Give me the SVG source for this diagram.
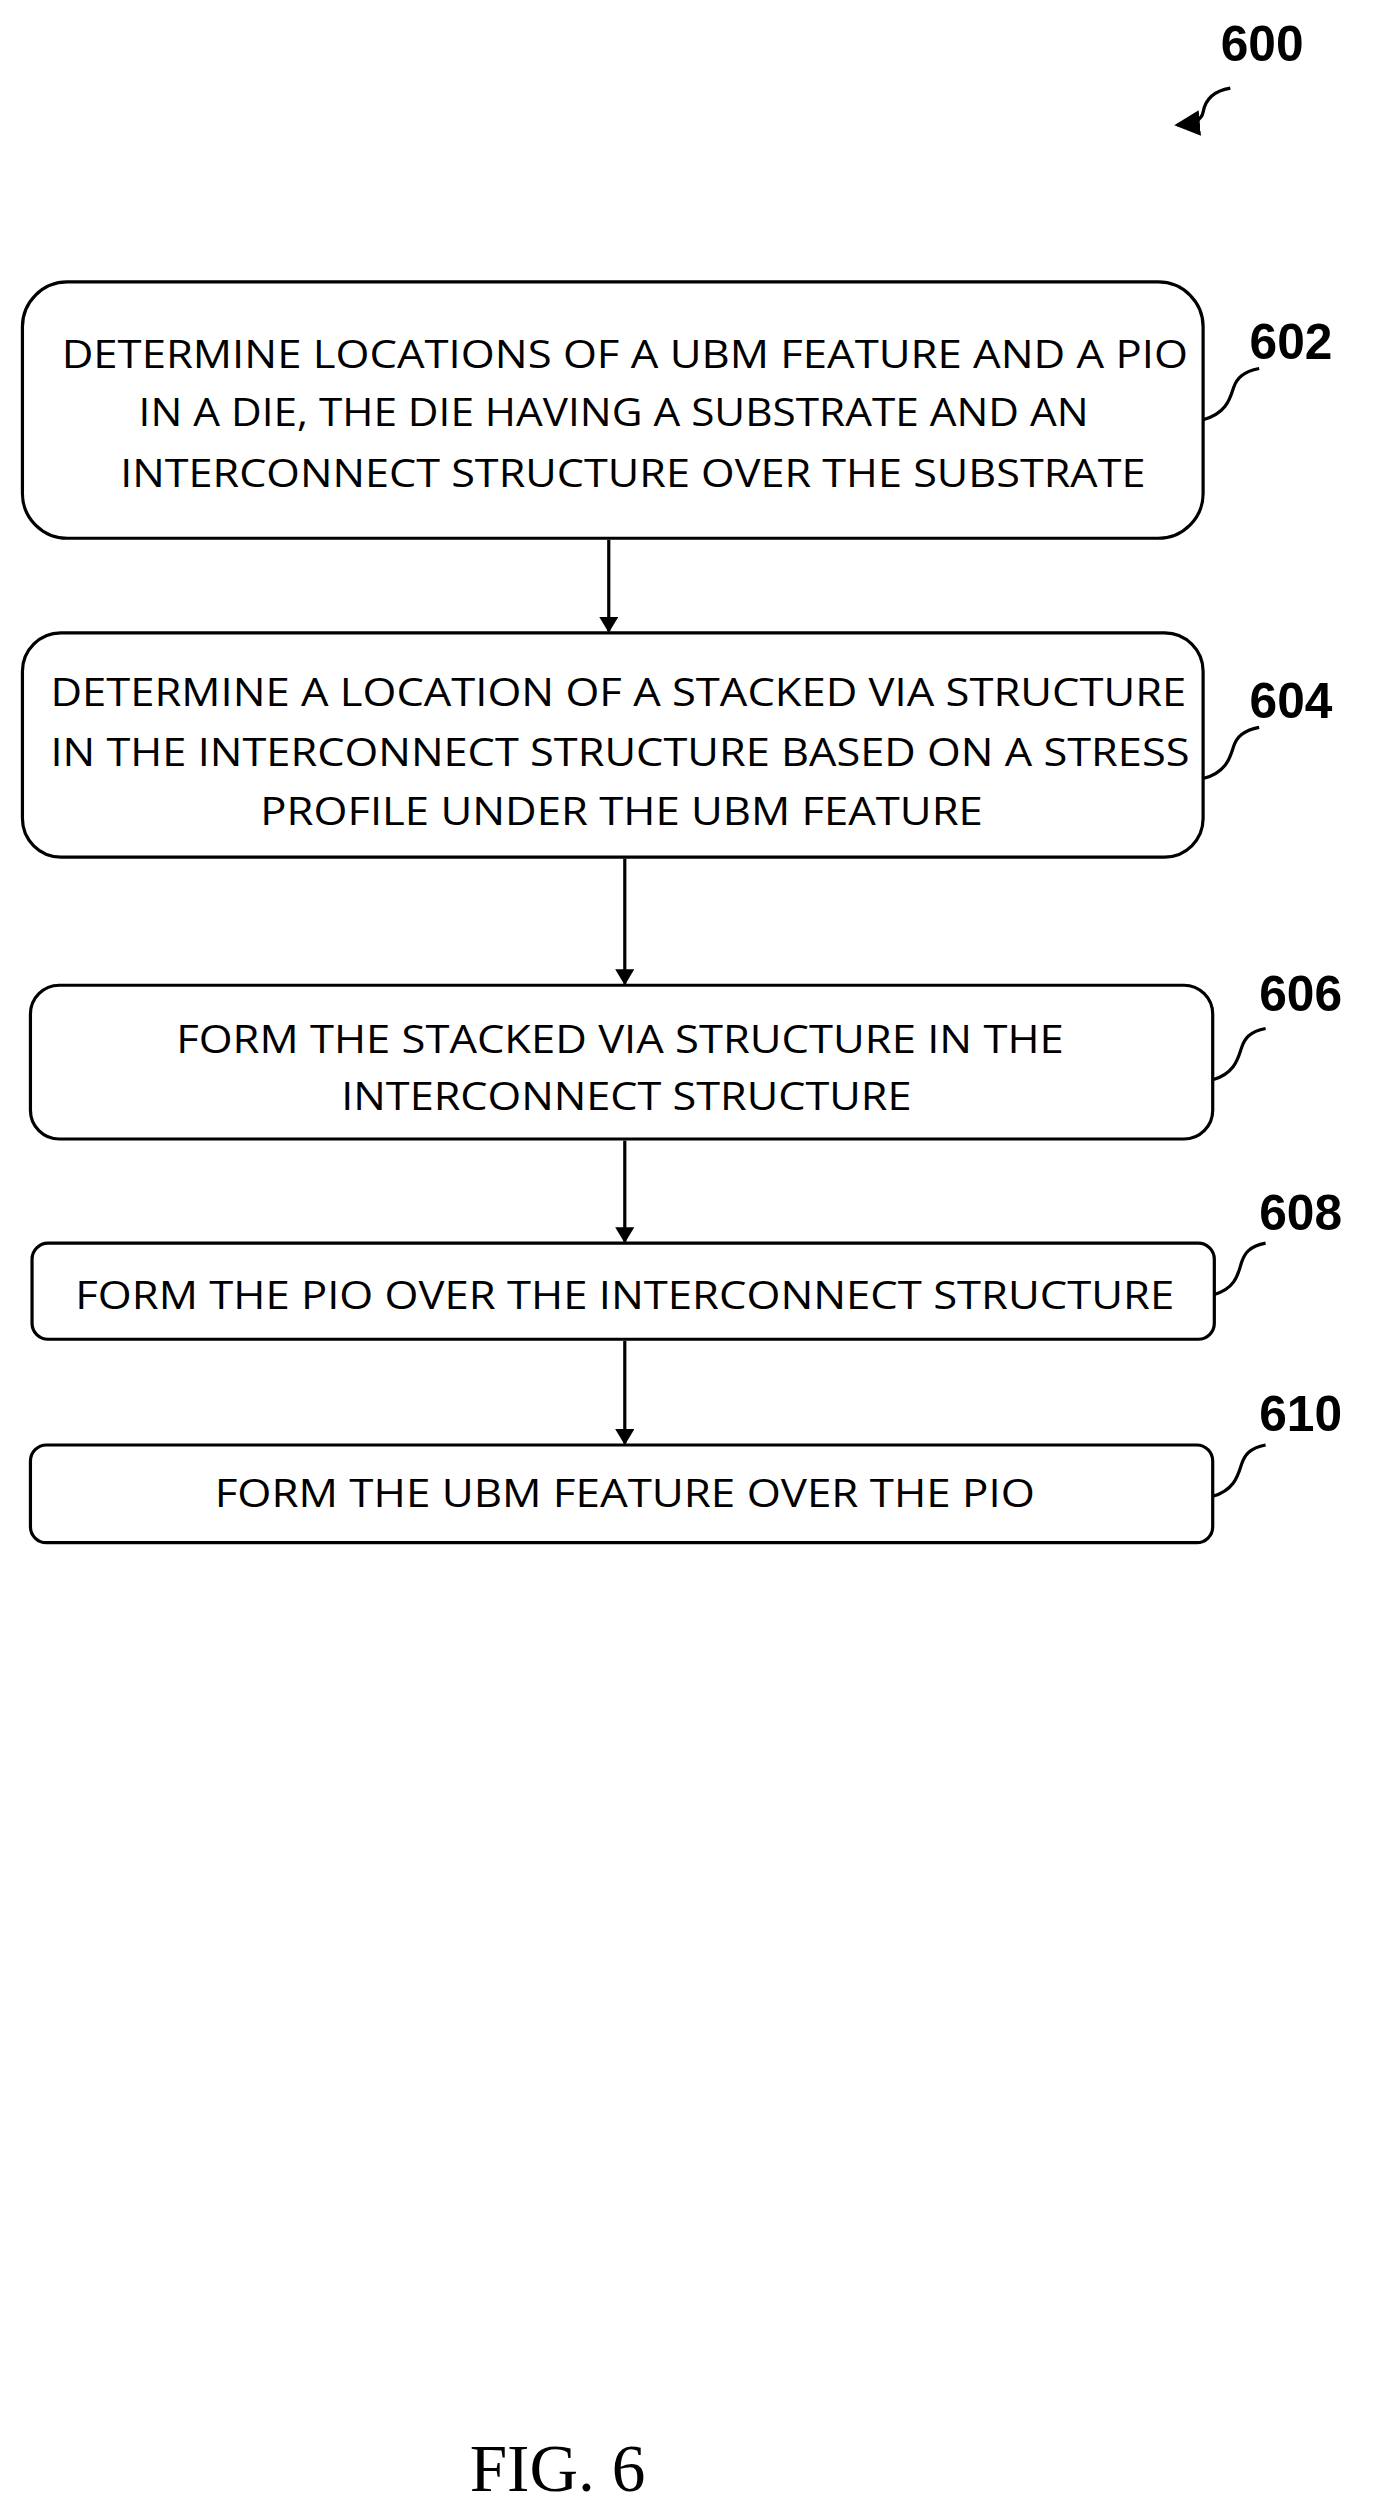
<svg xmlns="http://www.w3.org/2000/svg" width="1373" height="2509" viewBox="0 0 1373 2509">
<style>
.box{fill:#fff;stroke:#000;stroke-width:2}
.t{font-family:"Open Sans","Liberation Sans",sans-serif;font-size:24px;text-anchor:middle;fill:#000}
.n{font-family:"Liberation Sans",Arial,sans-serif;font-weight:bold;font-size:31px;fill:#000}
.c{fill:none;stroke:#000;stroke-width:2}
</style>
<defs><marker id="a" markerWidth="10" markerHeight="12" refX="9" refY="6" orient="auto" markerUnits="userSpaceOnUse"><path d="M0,0 L10,6 L0,12 Z" fill="#000"/></marker>
<marker id="b" markerWidth="16" markerHeight="16" refX="14" refY="8" orient="auto" markerUnits="userSpaceOnUse"><path d="M0,0 L16,8 L0,16 Z" fill="#000"/></marker></defs>
<rect width="1373" height="2509" fill="#fff"/>
<g transform="scale(1.602)">
<g id="ref600"><text class="n" x="762" y="38">600</text><path class="c" d="M768,55 C756,57 752,64 751,70 C750,75 746,77 735,78" marker-end="url(#b)"/></g>
<g id="n602"><rect class="box" x="14" y="176" width="737" height="160" rx="28"/>
<text class="t" x="390" y="230" textLength="703" lengthAdjust="spacingAndGlyphs">DETERMINE LOCATIONS OF A UBM FEATURE AND A PIO</text>
<text class="t" x="383" y="266" textLength="593" lengthAdjust="spacingAndGlyphs">IN A DIE, THE DIE HAVING A SUBSTRATE AND AN</text>
<text class="t" x="395" y="304" textLength="640" lengthAdjust="spacingAndGlyphs">INTERCONNECT STRUCTURE OVER THE SUBSTRATE</text>
<text class="n" x="780" y="224">602</text><path class="c" d="M751,262 C766,258 768,248 770,242 C772,236 776,232 786,230"/></g>
<g id="n604"><rect class="box" x="14" y="395" width="737" height="140" rx="24"/>
<text class="t" x="386" y="441" textLength="709" lengthAdjust="spacingAndGlyphs">DETERMINE A LOCATION OF A STACKED VIA STRUCTURE</text>
<text class="t" x="387" y="478" textLength="711" lengthAdjust="spacingAndGlyphs">IN THE INTERCONNECT STRUCTURE BASED ON A STRESS</text>
<text class="t" x="388" y="515" textLength="451" lengthAdjust="spacingAndGlyphs">PROFILE UNDER THE UBM FEATURE</text>
<text class="n" x="780" y="448">604</text><path class="c" d="M751,486 C766,482 768,472 770,466 C772,460 776,456 786,454"/></g>
<g id="n606"><rect class="box" x="19" y="615" width="738" height="96" rx="18"/>
<text class="t" x="387" y="657" textLength="554" lengthAdjust="spacingAndGlyphs">FORM THE STACKED VIA STRUCTURE IN THE</text>
<text class="t" x="391" y="693" textLength="356" lengthAdjust="spacingAndGlyphs">INTERCONNECT STRUCTURE</text>
<text class="n" x="786" y="631">606</text><path class="c" d="M757,674 C771,670 773,660 775,654 C777,648 780,644 790,642"/></g>
<g id="n608"><rect class="box" x="20" y="776" width="738" height="60" rx="10"/>
<text class="t" x="390" y="817" textLength="686" lengthAdjust="spacingAndGlyphs">FORM THE PIO OVER THE INTERCONNECT STRUCTURE</text>
<text class="n" x="786" y="768">608</text><path class="c" d="M758,808 C772,804 773,794 775,788 C777,782 780,778 790,776"/></g>
<g id="n610"><rect class="box" x="19" y="902" width="738" height="61" rx="10"/>
<text class="t" x="390" y="941" textLength="512" lengthAdjust="spacingAndGlyphs">FORM THE UBM FEATURE OVER THE PIO</text>
<text class="n" x="786" y="893">610</text><path class="c" d="M757,934 C771,930 773,920 775,914 C777,908 780,904 790,902"/></g>
<g id="connectors">
<path class="c" d="M380,337 V394" marker-end="url(#a)"/>
<path class="c" d="M390,536 V614" marker-end="url(#a)"/>
<path class="c" d="M390,712 V775" marker-end="url(#a)"/>
<path class="c" d="M390,837 V901" marker-end="url(#a)"/>
</g>
<text x="348" y="1555" font-family="Liberation Serif,serif" font-size="42" text-anchor="middle">FIG. 6</text>
</g>
</svg>
